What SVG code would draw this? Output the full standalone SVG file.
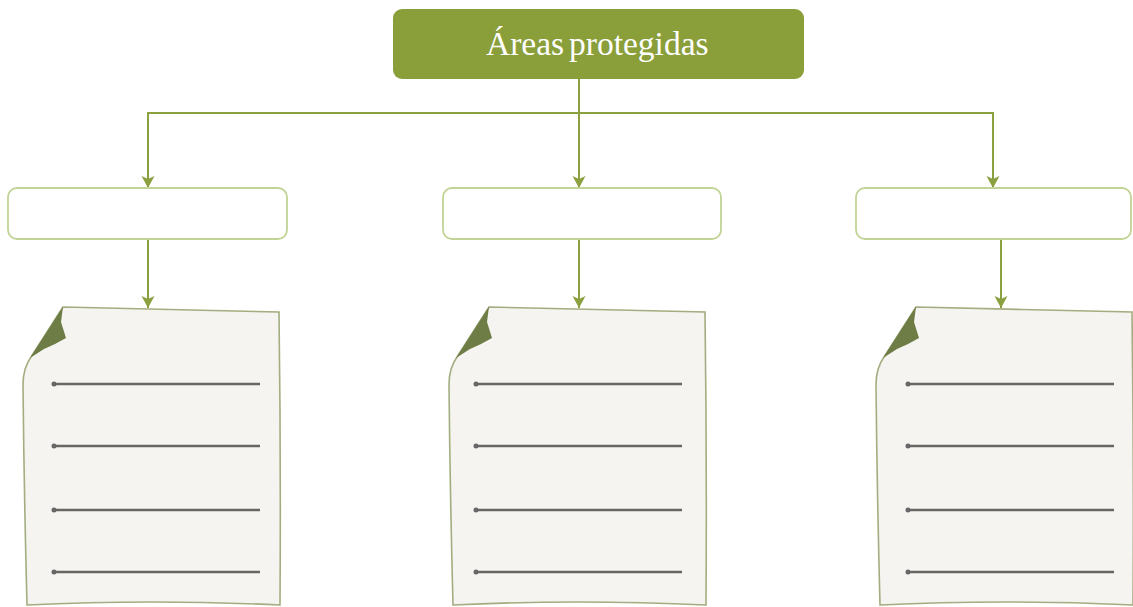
<svg xmlns="http://www.w3.org/2000/svg" width="1133" height="607" viewBox="0 0 1133 607">
<defs>
<marker id="arr" viewBox="0 0 12 14" refX="12" refY="7" markerWidth="12" markerHeight="14" markerUnits="userSpaceOnUse" orient="auto">
<path d="M0,0.5 L12,7 L0,13.5 L3,7 Z" fill="#8ba03f"/>
</marker>
<g id="paper">
<path d="M63,307 L170,309.5 L279,312 Q281,460 280,605 Q150,599 27,605 Q24,490 23,385 Q23,368 31,357 Z" fill="#f5f4f0" stroke="#a3ad7f" stroke-width="1.6"/>
<path d="M63,306.5 L61,322 L66,338 Q56,344 44,349 L30,358 Z" fill="#6e7c45"/>
</g>
</defs>
<style>
.conn{stroke:#8ba03f;stroke-width:2;fill:none}
.box{fill:#ffffff;stroke:#c2d495;stroke-width:1.8}
.ln{stroke:#666666;stroke-width:2.4}
.dot{fill:#666666}
.title{font-family:"Liberation Serif","DejaVu Serif",serif;font-size:33.5px;fill:#ffffff;word-spacing:-3.5px}
</style>
<g id="connectors">
<line class="conn" x1="148" y1="113" x2="993" y2="113"/>
<line class="conn" x1="579" y1="79" x2="579" y2="188" marker-end="url(#arr)"/>
<line class="conn" x1="148" y1="112" x2="148" y2="188" marker-end="url(#arr)"/>
<line class="conn" x1="993" y1="112" x2="993" y2="188" marker-end="url(#arr)"/>
<line class="conn" x1="148" y1="239" x2="148" y2="308" marker-end="url(#arr)"/>
<line class="conn" x1="579" y1="239" x2="579" y2="308" marker-end="url(#arr)"/>
<line class="conn" x1="1001" y1="239" x2="1001" y2="308" marker-end="url(#arr)"/>
</g>
<g id="title">
<rect x="393" y="9" width="411" height="70" rx="9" fill="#8a9e3a"/>
<text class="title" x="486" y="55">Áreas protegidas</text>
</g>
<g id="box-left"><rect class="box" x="8" y="188" width="279" height="51" rx="9"/></g>
<g id="box-middle"><rect class="box" x="443" y="188" width="278" height="51" rx="9"/></g>
<g id="box-right"><rect class="box" x="856" y="188" width="275" height="51" rx="9"/></g>
<g id="page-left">
<use href="#paper"/>
<line class="ln" x1="53" y1="384" x2="260" y2="384"/><circle class="dot" cx="54" cy="384" r="2.5"/>
<line class="ln" x1="53" y1="446" x2="260" y2="446"/><circle class="dot" cx="54" cy="446" r="2.5"/>
<line class="ln" x1="53" y1="510" x2="260" y2="510"/><circle class="dot" cx="54" cy="510" r="2.5"/>
<line class="ln" x1="53" y1="572" x2="260" y2="572"/><circle class="dot" cx="54" cy="572" r="2.5"/>
</g>
<g id="page-middle">
<use href="#paper" transform="translate(426,0)"/>
<line class="ln" x1="475" y1="384" x2="682" y2="384"/><circle class="dot" cx="476" cy="384" r="2.5"/>
<line class="ln" x1="475" y1="446" x2="682" y2="446"/><circle class="dot" cx="476" cy="446" r="2.5"/>
<line class="ln" x1="475" y1="510" x2="682" y2="510"/><circle class="dot" cx="476" cy="510" r="2.5"/>
<line class="ln" x1="475" y1="572" x2="682" y2="572"/><circle class="dot" cx="476" cy="572" r="2.5"/>
</g>
<g id="page-right">
<use href="#paper" transform="translate(853,0) scale(1,1)"/>
<line class="ln" x1="907" y1="384" x2="1114" y2="384"/><circle class="dot" cx="908" cy="384" r="2.5"/>
<line class="ln" x1="907" y1="446" x2="1114" y2="446"/><circle class="dot" cx="908" cy="446" r="2.5"/>
<line class="ln" x1="907" y1="510" x2="1114" y2="510"/><circle class="dot" cx="908" cy="510" r="2.5"/>
<line class="ln" x1="907" y1="572" x2="1114" y2="572"/><circle class="dot" cx="908" cy="572" r="2.5"/>
</g>
</svg>
